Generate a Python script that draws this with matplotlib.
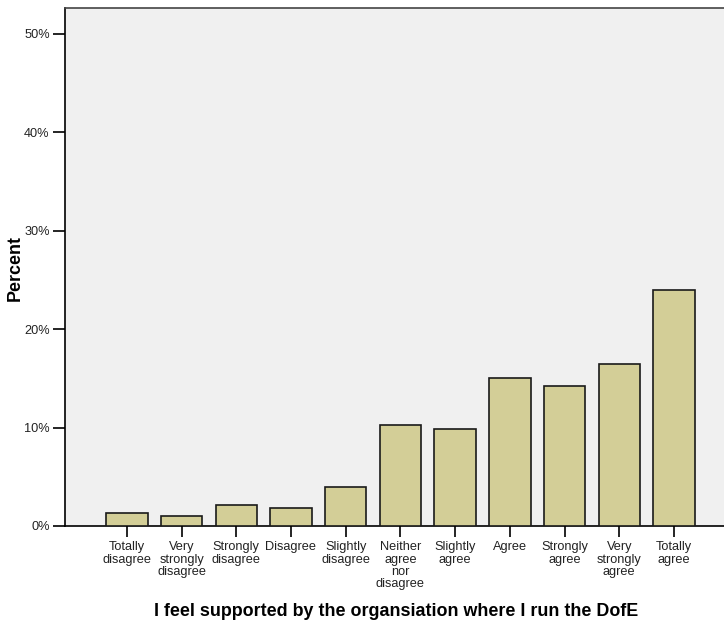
# SPSS-style bar chart: support from the organisation running the DofE
import numpy as np
import matplotlib.pyplot as plt
from matplotlib.ticker import PercentFormatter

plt.rcParams['font.family'] = ['Liberation Sans', 'DejaVu Sans']

# Data
# -----------------------------------------------------------------------------
categories = ["Totally\ndisagree", "Very\nstrongly\ndisagree", "Strongly\ndisagree",
              "Disagree", "Slightly\ndisagree", "Neither\nagree\nnor\ndisagree",
              "Slightly\nagree", "Agree", "Strongly\nagree", "Very\nstrongly\nagree",
              "Totally\nagree"]
percent = [1.3, 1.0, 2.1, 1.8, 4.0, 10.3, 9.8, 15.0, 14.2, 16.4, 24.0]
y_ticks = [0, 10, 20, 30, 40, 50]

x_title = "I feel supported by the organsiation where I run the DofE"
y_title = "Percent"

# Plot
# -----------------------------------------------------------------------------
fig = plt.figure(figsize=(7.24, 6.2), dpi=100)
ax = fig.add_axes([65/724, 94/620, 1 - 65/724 + 0.002, 518/620])
ax.set_facecolor("#f0f0f0")

x = np.arange(len(categories))
ax.bar(x, percent, width=0.756, color="#d3ce97", edgecolor="#1a1a1a", linewidth=1.2, zorder=3)

ax.set_xlim(-1.13, 10.94)
ax.set_ylim(0, 52.6)
ax.set_yticks(y_ticks)
ax.yaxis.set_major_formatter(PercentFormatter(decimals=0))
ax.set_xticks(x)
ax.set_xticklabels(categories, fontsize=9.2, linespacing=1.03, color="#222222")
ax.tick_params(axis="y", labelsize=9.2, length=9, width=1.2, pad=2, labelcolor="#222222")
ax.tick_params(axis="x", length=8, width=1.2, pad=3)

for side in ["left", "bottom"]:
    ax.spines[side].set_color("#000000")
    ax.spines[side].set_linewidth(1.2)
ax.spines["top"].set_color("#444444")
ax.spines["top"].set_linewidth(1.2)
ax.spines["right"].set_visible(False)

fig.text(396/724, 1 - 616/620, x_title, fontsize=12.9, fontweight="bold",
         ha="center", va="baseline")
fig.text(15/724, 1 - 268/620, y_title, fontsize=12.9, fontweight="bold",
         rotation=90, ha="center", va="center")

fig.savefig("out.png", dpi=100, facecolor="white")
